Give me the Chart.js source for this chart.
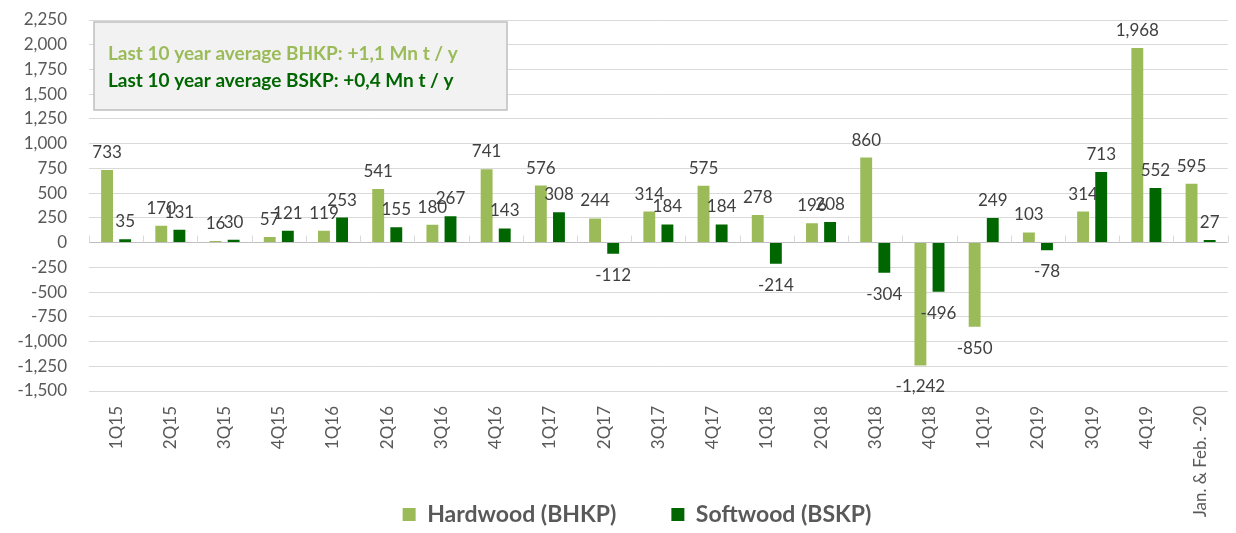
<!DOCTYPE html>
<html>
<head>
<meta charset="utf-8">
<script src="https://cdn.jsdelivr.net/npm/chart.js@4/dist/chart.umd.min.js"></script>
<style>
  html, body { margin: 0; padding: 0; background: #ffffff; }
  #wrap { position: relative; width: 1236px; height: 533px; }
</style>
</head>
<body>
<div id="wrap"><canvas id="c" width="1236" height="533"></canvas></div>
<script>
const categories = ['1Q15','2Q15','3Q15','4Q15','1Q16','2Q16','3Q16','4Q16','1Q17','2Q17','3Q17','4Q17','1Q18','2Q18','3Q18','4Q18','1Q19','2Q19','3Q19','4Q19','Jan. & Feb. -20'];
const hardwood = [733,170,16,57,119,541,180,741,576,244,314,575,278,196,860,-1242,-850,103,314,1968,595];
const softwood = [35,131,30,121,253,155,267,143,308,-112,184,184,-214,208,-304,-496,249,-78,713,552,27];
const seriesNames = ['Hardwood (BHKP)', 'Softwood (BSKP)'];
const yMin = -1500;
const yMax = 2250;
const yStep = 250;
const insetLines = ['Last 10 year average BHKP: +1,1 Mn t / y', 'Last 10 year average BSKP: +0,4 Mn t / y'];

const LIGHT = '#9bbb59';
const DARK = '#006600';
const FONT = 'Lato, "Open Sans", sans-serif';

const fmt = v => Number(v).toLocaleString('en-US');

const helperPlugin = {
  id: 'helper',
  afterLayout(chart) {
    const lg = chart.legend;
    if (lg) {
      lg.left += 17; lg.right += 17;
      lg.top += 3; lg.bottom += 3;
    }
    // let rotated category labels run past the axis box (as in the reference)
    chart.scales.x.bottom = chart.height;
  },
  beforeDatasetsDraw(chart) {
    const ctx = chart.ctx;
    const xs = chart.scales.x, ys = chart.scales.y;
    const y0 = ys.getPixelForValue(0);
    const n = categories.length;
    const w = (xs.right - xs.left) / n;
    ctx.save();
    ctx.strokeStyle = '#d9d9d9';
    ctx.lineWidth = 1;
    for (let i = 0; i <= n; i++) {
      const x = Math.round(xs.getPixelForValue(Math.min(i, n - 1)) + (i < n ? -w / 2 : w / 2)) + 0.5;
      ctx.beginPath();
      ctx.moveTo(x, y0);
      ctx.lineTo(x, y0 - 7);
      ctx.stroke();
    }
    // inset box
    ctx.fillStyle = '#f2f2f2';
    ctx.fillRect(94, 22, 413, 88);
    ctx.strokeStyle = '#bfbfbf';
    ctx.lineWidth = 1.5;
    ctx.strokeRect(94, 22, 413, 88);
    ctx.font = 'bold 19px ' + FONT;
    ctx.textAlign = 'left';
    ctx.textBaseline = 'middle';
    ctx.fillStyle = LIGHT;
    ctx.fillText(insetLines[0], 108, 54);
    ctx.fillStyle = DARK;
    ctx.fillText(insetLines[1], 108, 81);
    ctx.restore();
  },
  afterDatasetsDraw(chart) {
    const ctx = chart.ctx;
    ctx.save();
    ctx.font = '17px ' + FONT;
    ctx.fillStyle = '#404040';
    ctx.textAlign = 'center';
    ctx.textBaseline = 'alphabetic';
    chart.data.datasets.forEach((ds, di) => {
      const meta = chart.getDatasetMeta(di);
      meta.data.forEach((bar, i) => {
        const v = ds.data[i];
        const y = v >= 0 ? bar.y - 12 : bar.y + 27;
        ctx.fillText(fmt(v), bar.x, y);
      });
    });
    ctx.restore();
  }
};

new Chart(document.getElementById('c'), {
  type: 'bar',
  data: {
    labels: categories,
    datasets: [
      { label: seriesNames[0], data: hardwood, backgroundColor: LIGHT, borderWidth: 0,
        categoryPercentage: 0.668, barPercentage: 0.656 },
      { label: seriesNames[1], data: softwood, backgroundColor: DARK, borderWidth: 0,
        categoryPercentage: 0.668, barPercentage: 0.656 }
    ]
  },
  options: {
    responsive: false,
    animation: false,
    devicePixelRatio: 1,
    layout: { padding: { top: 20, right: -4, left: 0, bottom: 0 } },
    plugins: {
      tooltip: { enabled: false },
      legend: {
        position: 'bottom',
        labels: {
          font: { family: FONT, size: 23, weight: 'bold' },
          color: '#595959',
          boxWidth: 13,
          boxHeight: 13,
          padding: 55
        }
      }
    },
    scales: {
      x: {
        grid: { display: false, drawTicks: false },
        border: { display: false },
        ticks: {
          color: '#595959',
          font: { family: FONT, size: 17 },
          minRotation: 90,
          maxRotation: 90,
          padding: 15,
          autoSkip: false
        },
        afterFit(scale) { scale.height = 54; }
      },
      y: {
        min: yMin,
        max: yMax,
        grid: {
          color: ctx => (ctx.tick && ctx.tick.value === 0) ? '#bfbfbf' : '#d9d9d9',
          lineWidth: 1,
          drawTicks: true,
          tickLength: 22,
          tickColor: 'rgba(0,0,0,0)'
        },
        border: { display: false },
        ticks: {
          stepSize: yStep,
          color: '#595959',
          font: { family: FONT, size: 17 },
          padding: 0,
          callback: v => fmt(v)
        },
        afterFit(scale) { scale.width = 89; }
      }
    }
  },
  plugins: [helperPlugin]
});
</script>
</body>
</html>
